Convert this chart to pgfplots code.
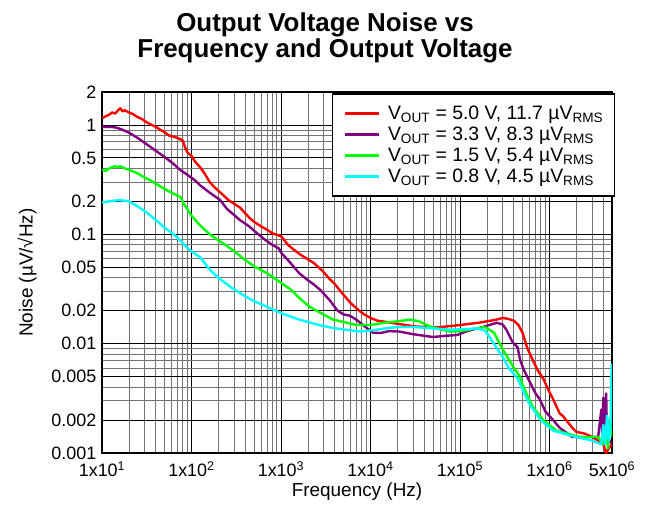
\documentclass[border=0pt]{standalone}
\usepackage{fontspec}
\setmainfont{Liberation Sans}
\usepackage{pgfplots}
\pgfplotsset{compat=1.18}
\definecolor{cRed}{RGB}{255,0,0}
\definecolor{cPur}{RGB}{128,0,128}
\definecolor{cGrn}{RGB}{0,255,0}
\definecolor{cCya}{RGB}{0,255,255}
\begin{document}
\begin{tikzpicture}
\begin{axis}[
  scale only axis,
  width=510bp, height=361bp,
  xmode=log, ymode=log,
  xmin=10, xmax=5e6, ymin=0.001, ymax=2,
  xtick={1e1,1e2,1e3,1e4,1e5,1e6,5e6},
  xticklabels={{1x10\textsuperscript{1}},{1x10\textsuperscript{2}},{1x10\textsuperscript{3}},{1x10\textsuperscript{4}},{1x10\textsuperscript{5}},{1x10\textsuperscript{6}},{5x10\textsuperscript{6}}},
  minor xtick={2e1,3e1,4e1,5e1,6e1,7e1,8e1,9e1,2e2,3e2,4e2,5e2,6e2,7e2,8e2,9e2,2e3,3e3,4e3,5e3,6e3,7e3,8e3,9e3,2e4,3e4,4e4,5e4,6e4,7e4,8e4,9e4,2e5,3e5,4e5,5e5,6e5,7e5,8e5,9e5,2e6,3e6,4e6},
  ytick={0.001,0.002,0.005,0.01,0.02,0.05,0.1,0.2,0.5,1,2},
  yticklabels={0.001,0.002,0.005,0.01,0.02,0.05,0.1,0.2,0.5,1,2},
  minor ytick={0.003,0.004,0.006,0.007,0.008,0.009,0.03,0.04,0.06,0.07,0.08,0.09,0.3,0.4,0.6,0.7,0.8,0.9},
  grid=both,
  major grid style={black, line width=0.8bp},
  minor grid style={black!55, line width=0.8bp},
  major tick length=0pt, minor tick length=0pt,
  axis line style={line width=2.5bp},
  tick label style={font=\fontsize{18}{18}\selectfont, inner sep=0.5bp},
  xticklabel style={yshift=-8bp},
  yticklabel style={xshift=-5bp},
  xlabel={Frequency (Hz)},
  ylabel={Noise (µV/√Hz)},
  label style={font=\fontsize{19}{19}\selectfont},
  xlabel style={at={(axis description cs:0.5,-0.108)}, anchor=center},
  ylabel style={at={(axis description cs:-0.147,0.5)}, anchor=center},
  no markers,
  every axis plot/.append style={line width=2.4bp, line join=round},
  legend cell align=left,
  legend style={at={(rel axis cs:1.006,0.997)}, anchor=north east, draw=black, line width=1.5bp, fill=white,
    font=\fontsize{19.5}{19.5}\selectfont, inner xsep=11bp, inner ysep=10.5bp, row sep=3bp, column sep=0bp,
    nodes={inner xsep=0bp, inner ysep=1.5bp},
    legend image code/.code={\draw[#1, line width=2.4bp] (0bp,0bp) -- (34bp,0bp);},
    /tikz/every odd column/.append style={column sep=8bp}},
]
\coordinate (sw) at (rel axis cs:0,0);
\coordinate (ne) at (rel axis cs:1,1);
% 5.0 V
\addplot[cRed] coordinates {
(10,1.15)(11,1.2)(12,1.24)(13,1.3)(14,1.27)(15,1.35)(16,1.42)(17,1.33)(18,1.36)(20,1.3)(22,1.26)(25,1.18)(28,1.13)(32,1.05)(36,1.0)(40,0.96)(45,0.9)(50,0.86)(56,0.8)(63,0.78)(70,0.76)(75,0.74)(80,0.72)(85,0.62)(90,0.56)(100,0.52)(110,0.46)(125,0.41)(140,0.36)(160,0.30)(180,0.27)(200,0.25)(230,0.225)(260,0.205)(300,0.19)(350,0.175)(400,0.155)(450,0.14)(500,0.13)(600,0.118)(700,0.11)(800,0.102)(1000,0.096)(1200,0.08)(1400,0.072)(1700,0.064)(2000,0.059)(2300,0.055)(2700,0.049)(3000,0.045)(3500,0.039)(4000,0.035)(4500,0.031)(5000,0.028)(6000,0.0235)(7500,0.020)(8500,0.0185)(10000,0.0172)(12000,0.0162)(15000,0.0158)(20000,0.0152)(25000,0.0148)(30000,0.0144)(40000,0.0142)(50000,0.0141)(60000,0.0142)(80000,0.0145)(100000,0.0148)(130000,0.0152)(160000,0.0155)(200000,0.016)(250000,0.0165)(300000,0.0172)(350000,0.0168)(400000,0.0162)(450000,0.0148)(500000,0.0126)(560000,0.0093)(630000,0.0075)(740000,0.0057)(850000,0.0048)(1000000,0.0036)(1100000,0.0031)(1300000,0.0023)(1400000,0.0022)(1800000,0.0017)(2000000,0.00156)(2500000,0.0015)(3000000,0.0014)(3500000,0.0013)(4000000,0.0012)(4300000,0.0010)(4600000,0.0011)(5000000,0.0012)
};
\addlegendentry{V\textsubscript{OUT} = 5.0 V, 11.7 µV\textsubscript{RMS}}
% 3.3 V
\addplot[cPur] coordinates {
(10,0.96)(12,0.96)(14,0.95)(16,0.92)(20,0.85)(25,0.76)(32,0.66)(40,0.58)(50,0.51)(63,0.44)(74,0.39)(90,0.35)(110,0.31)(125,0.28)(160,0.24)(209,0.206)(250,0.17)(300,0.15)(347,0.135)(400,0.125)(447,0.117)(500,0.108)(630,0.092)(800,0.08)(950,0.074)(1000,0.068)(1200,0.058)(1600,0.044)(2000,0.038)(2300,0.035)(2750,0.031)(3500,0.025)(4300,0.020)(5000,0.0185)(5900,0.018)(7000,0.0165)(8500,0.0145)(10700,0.0126)(13000,0.0125)(16000,0.013)(21000,0.0129)(30000,0.0122)(40000,0.0118)(50000,0.0115)(70000,0.0118)(93000,0.012)(120000,0.013)(180000,0.0142)(257000,0.0155)(300000,0.015)(330000,0.0134)(390000,0.0102)(440000,0.0093)(470000,0.0071)(520000,0.0057)(600000,0.0045)(700000,0.0035)(780000,0.0031)(900000,0.0024)(1100000,0.002)(1300000,0.0017)(1800000,0.0014)(2500000,0.0014)(3500000,0.0014)(3800000,0.0025)(3900000,0.0014)(4000000,0.0032)(4100000,0.0015)(4300000,0.0035)(4400000,0.0014)(4700000,0.0013)(5000000,0.0012)
};
\addlegendentry{V\textsubscript{OUT} = 3.3 V, 8.3 µV\textsubscript{RMS}}
% 1.5 V
\addplot[cGrn] coordinates {
(10,0.39)(11,0.38)(12,0.40)(13,0.41)(14,0.42)(15,0.41)(16,0.42)(18,0.40)(20,0.39)(25,0.36)(30,0.33)(35,0.31)(40,0.29)(50,0.26)(63,0.235)(75,0.22)(82,0.19)(90,0.17)(100,0.148)(123,0.122)(160,0.1)(200,0.088)(250,0.078)(300,0.07)(400,0.058)(500,0.051)(700,0.044)(1000,0.036)(1300,0.031)(1700,0.025)(2100,0.0217)(2800,0.019)(3800,0.0166)(5500,0.0155)(7000,0.0148)(10000,0.0148)(14000,0.0155)(20000,0.016)(28000,0.0166)(35000,0.016)(45000,0.0145)(60000,0.0135)(78000,0.0129)(100000,0.013)(155000,0.0138)(190000,0.0142)(214000,0.0134)(240000,0.0126)(270000,0.0105)(302000,0.0088)(340000,0.0075)(390000,0.0062)(468000,0.005)(500000,0.0042)(580000,0.0032)(660000,0.0026)(850000,0.002)(1200000,0.0016)(2200000,0.0014)(3500000,0.0014)(4000000,0.0012)(4300000,0.0018)(4500000,0.0011)(4700000,0.002)(5000000,0.0014)
};
\addlegendentry{V\textsubscript{OUT} = 1.5 V, 5.4 µV\textsubscript{RMS}}
% 0.8 V
\addplot[cCya] coordinates {
(10,0.195)(12,0.2)(15,0.205)(18,0.203)(20,0.2)(25,0.18)(32,0.157)(40,0.135)(50,0.115)(63,0.1)(74,0.089)(90,0.075)(110,0.066)(124,0.062)(162,0.047)(200,0.04)(288,0.032)(400,0.027)(500,0.0245)(700,0.0217)(1000,0.019)(1600,0.0166)(2500,0.015)(3800,0.0139)(5000,0.0135)(7600,0.0129)(10000,0.0132)(15000,0.0138)(20000,0.0142)(30000,0.0142)(50000,0.0138)(78000,0.0134)(120000,0.0136)(155000,0.0138)(190000,0.0132)(214000,0.0115)(260000,0.009)(302000,0.0075)(350000,0.006)(440000,0.0048)(500000,0.0038)(600000,0.0028)(800000,0.002)(1100000,0.0016)(2000000,0.0014)(3000000,0.0013)(3800000,0.0012)(4000000,0.0018)(4200000,0.0012)(4400000,0.0022)(4600000,0.0013)(4800000,0.0016)(4950000,0.0064)(5000000,0.006)
};
\addlegendentry{V\textsubscript{OUT} = 0.8 V, 4.5 µV\textsubscript{RMS}}
\end{axis}
\node[anchor=base, font=\bfseries\fontsize{26}{26}\selectfont] at ([xshift=223bp, yshift=60bp]sw |- ne) {Output Voltage Noise vs};
\node[anchor=base, font=\bfseries\fontsize{26}{26}\selectfont] at ([xshift=223bp, yshift=34bp]sw |- ne) {Frequency and Output Voltage};
\pgfresetboundingbox
\path[use as bounding box] ([xshift=-102bp,yshift=-53bp]sw) rectangle ([xshift=34bp,yshift=92bp]ne);
\end{tikzpicture}
\end{document}
